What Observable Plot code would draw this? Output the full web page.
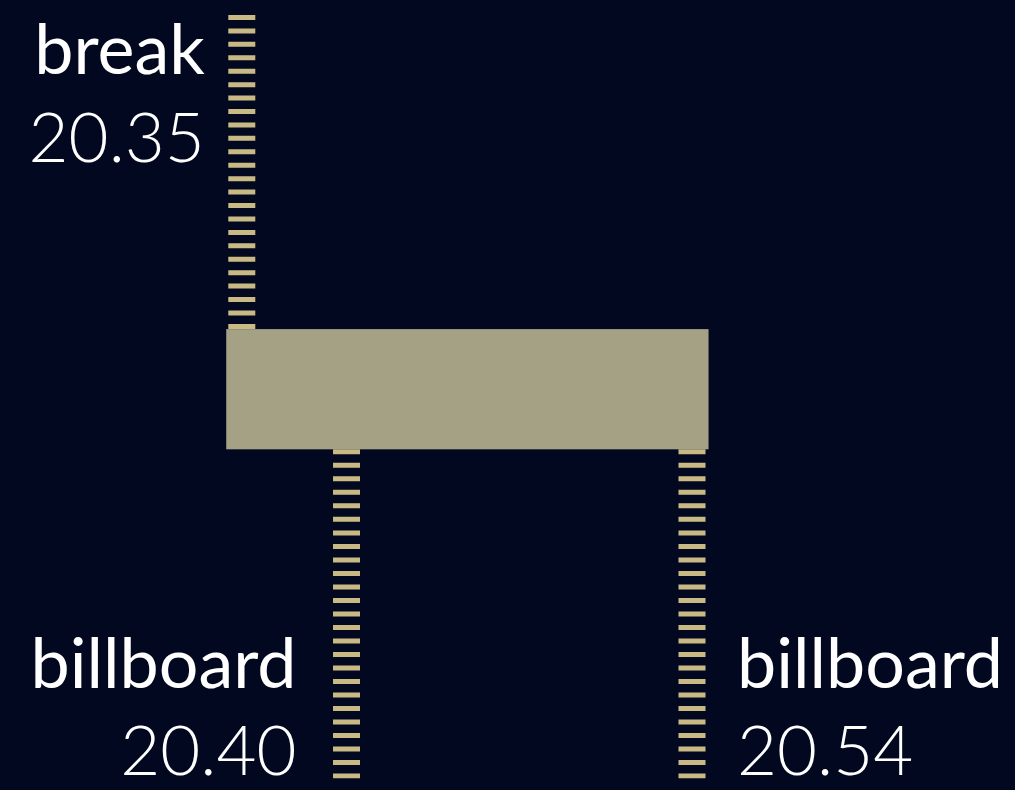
<!DOCTYPE html>
<html><head><meta charset="utf-8">
<script src="https://cdn.jsdelivr.net/npm/d3@7"></script>
<script src="https://cdn.jsdelivr.net/npm/@observablehq/plot@0.6"></script>
<style>html,body{margin:0;padding:0;background:#010820;overflow:hidden}</style>
</head><body><div id="chart"></div>
<script>
// ---- data ----
const eventNames  = ["break", "billboard", "billboard"];
const eventTimes  = ["20:35:45", "20:40:09", "20:54:40"];
const eventLabels = ["20.35", "20.40", "20.54"];
const eventSides  = ["above", "below", "below"];
const eventAlign  = ["end", "end", "start"];
const segmentStart = "20:35:07";
const segmentEnd   = "20:55:23";

const toMin = s => { const [h, m, sec] = s.split(":").map(Number); return h * 60 + m + sec / 60; };
const events = eventNames.map((name, i) => ({
  name, t: toMin(eventTimes[i]), label: eventLabels[i], side: eventSides[i], align: eventAlign[i]
}));
const segment = [{start: toMin(segmentStart), end: toMin(segmentEnd)}];

// vertical layout (abstract units)
const TOP = 100, BOTTOM = 0, BAR_LO = 43.1, BAR_HI = 58.85;
const STRIPE = "#c9ba85", BAR = "#a5a184", BG = "#010820";

function labels(data, anchor, dx, above) {
  const y = above ? TOP : BOTTOM;
  const common = {x: "t", y, textAnchor: anchor, dx, fill: "white", fontFamily: "Lato", fontSize: 70};
  if (above) {
    return [
      Plot.text(data, {...common, text: "name", lineAnchor: "top", dy: 8.6, fontWeight: 400}),
      Plot.text(data, {...common, text: "label", lineAnchor: "top", dy: 97.5, fontWeight: 300, fontSize: 69})
    ];
  }
  return [
    Plot.text(data, {...common, text: "name", lineAnchor: "bottom", dy: -90.8, fontWeight: 400}),
    Plot.text(data, {...common, text: "label", lineAnchor: "bottom", dy: -3.5, fontWeight: 300, fontSize: 69})
  ];
}

const above = events.filter(d => d.side === "above");
const below = events.filter(d => d.side === "below");

const chart = Plot.plot({
  width: 1015, height: 790,
  margin: 0,
  style: {background: BG, overflow: "visible"},
  x: {domain: d3.extent(events, d => d.t), range: [241.3, 691.5], axis: null},
  y: {domain: [BOTTOM, TOP], range: [778.3, 15], axis: null},
  marks: [
    Plot.ruleX(above, {x: "t", y1: TOP, y2: BAR_HI, stroke: STRIPE, strokeWidth: 27, strokeDasharray: "5,8.43"}),
    Plot.ruleX(below, {x: "t", y1: BAR_LO, y2: BOTTOM, stroke: STRIPE, strokeWidth: 27, strokeDasharray: "5,8.51"}),
    Plot.rect(segment, {x1: "start", x2: "end", y1: BAR_LO, y2: BAR_HI, fill: BAR}),
    ...labels(above.filter(d => d.align === "end"), "end", -37, true),
    ...labels(below.filter(d => d.align === "end"), "end", -50, false),
    ...labels(below.filter(d => d.align === "start"), "start", 45, false)
  ]
});
document.getElementById("chart").appendChild(chart);
</script>
</body></html>
